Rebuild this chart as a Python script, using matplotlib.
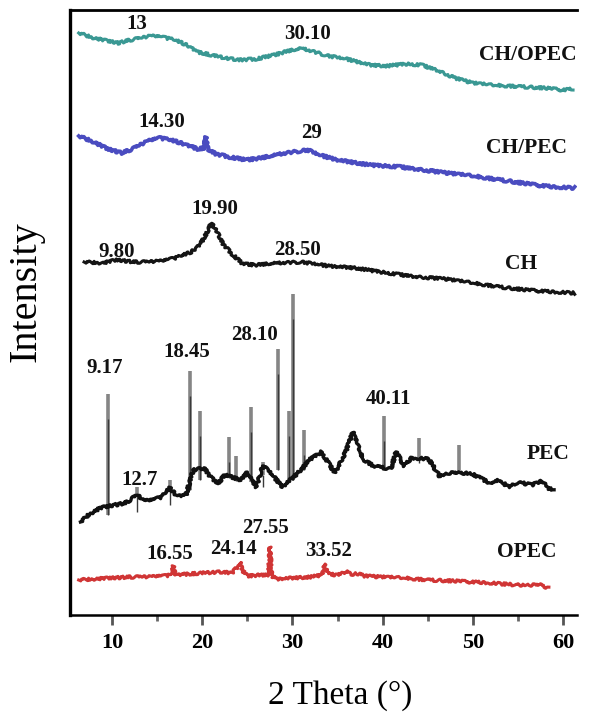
# XRD patterns of OPEC, PEC, CH and the blends, stacked
import numpy as np
import matplotlib
matplotlib.use("Agg")
import matplotlib.pyplot as plt

plt.rcParams["font.family"] = ["Liberation Serif", "DejaVu Serif"]

# stacked intensities (a.u.), 2-theta in degrees
chopec_x = [6.3, 8, 9.5, 10.7, 12, 13.3, 14.3, 15.5, 17, 18.5, 19.5, 21, 22.5, 24.1, 26, 28, 29.5,
            31, 32.5, 34, 36, 38.6, 40.5, 42.5, 44.3, 46, 48, 50, 52, 54, 56, 58, 60, 61.1]
chopec_y = [582, 577, 574, 572, 575, 577, 579, 578, 575, 569, 563, 560, 557, 555, 556, 560, 564,
            567, 563, 559, 556, 550, 549, 551, 550, 545, 537, 532, 530, 529, 528, 527, 525, 526]

chpec_x = [6.3, 8, 9.5, 11.1, 12.5, 14, 15.3, 16.5, 18, 19.5, 20.2, 20.4, 20.6, 21.5, 23, 24.9, 26.5,
           28.5, 30, 31.7, 33, 35, 38.6, 42, 46.2, 50, 53.9, 57, 59, 61.3]
chpec_y = [479, 473, 466, 462, 467, 474, 477, 475, 471, 466, 467, 478, 466, 461, 458, 455, 457,
           461, 463, 465, 460, 455, 450, 448, 443, 439, 434, 430, 428, 427]

ch_x = [6.9, 9, 10.5, 12.5, 14, 15.6, 17, 18.8, 19.8, 20.5, 21.0, 21.6, 22.3, 23.3, 24.5, 26, 28,
        31, 34, 37, 40.5, 44, 47, 50, 53, 56, 59, 61.3]
ch_y = [353, 352, 355, 353, 353, 354, 357, 363, 371, 382, 392, 384, 371, 361, 351, 350, 352,
        353, 349, 347, 342, 338, 336, 332, 328, 325, 323, 322]

pec_x = [6.5, 7.5, 8.7, 10.3, 11.5, 12.8, 13.5, 14.5, 15.5, 16.4, 17.2, 18.2, 19, 20.2, 21, 21.8,
         22.5, 24.3, 25, 26, 26.7, 27.3, 28.9, 30.6, 32, 33.2, 34.7, 35.9, 36.7, 37.8, 39, 40.9,
         41.5, 42.4, 43.2, 45.1, 46.3, 47.4, 49.7, 50.8, 51.9, 53, 53.9, 55, 56.5, 57.7, 58.3, 59]
pec_y = [93, 101, 107, 110, 112, 120, 114, 115, 118, 127, 119, 120, 145, 147, 137, 132,
         140, 135, 143, 128, 149, 145, 128, 142, 156, 163, 142, 163, 183, 156, 149, 146,
         163, 149, 157, 156, 139, 142, 142, 137, 132, 135, 128, 133, 130, 134, 127, 125]

# sharp PEC reflections (gray sticks): position, foot, top
pec_peak_x = [9.6, 12.8, 16.4, 18.65, 19.7, 23.0, 23.7, 25.4, 26.7, 28.35, 29.6, 30.1, 31.3, 40.1, 44.0, 48.5]
pec_peak_lo = [100, 120, 125, 125, 135, 137, 137, 133, 140, 145, 135, 135, 145, 147, 155, 145]
pec_peak_hi = [221, 128, 135, 244, 204, 178, 159, 208, 153, 266, 204, 321, 185, 199, 177, 170]

opec_x = [6.3, 8, 10, 12, 14, 15.7, 16.6, 16.8, 17.0, 18.5, 20, 22, 23.3, 24.0, 24.2, 24.4, 25,
          26.5, 27.3, 27.5, 27.7, 28.3, 30, 32, 33.3, 33.6, 33.9, 35, 36.1, 36.5, 37.0, 38, 40,
          42.4, 45, 48, 51.9, 55, 57.5, 58.4]
opec_y = [35, 36, 37, 38, 38, 39, 40, 49, 40, 41, 42, 43, 42, 49, 53, 45, 39,
          40, 40, 68, 39, 36, 37, 38, 40, 51, 41, 40, 44, 40, 42, 39, 38,
          37, 35, 34, 32, 30, 30, 27]

labels = ["13", "30.10", "CH/OPEC", "14.30", "29", "CH/PEC", "9.80", "19.90", "28.50", "CH",
          "9.17", "18.45", "28.10", "40.11", "12.7", "PEC", "16.55", "24.14", "27.55", "33.52", "OPEC"]
label_x = [12.8, 31.7, 56.1, 15.5, 32.1, 56.0, 10.55, 21.4, 30.6, 55.3,
           9.2, 18.3, 25.8, 40.7, 13.0, 58.4, 16.4, 23.5, 27.0, 34.0, 56.0]
label_y = [591, 581, 560, 493, 482, 467, 363, 406, 365, 351,
           247, 263, 280, 216, 135, 161, 61, 66.5, 87, 64, 63]
series_names = ["CH/OPEC", "CH/PEC", "CH", "PEC", "OPEC"]

fig = plt.figure(figsize=(6.03, 7.12), dpi=100)
ax = fig.add_axes([70 / 603, 1 - 615 / 712, 507 / 603, 605 / 712])

def trace(x, y, color, lw=2.0):
    line, = ax.plot(x, y, color=color, lw=lw, solid_joinstyle="round")
    line.set_sketch_params(scale=1.3, length=2.2, randomness=8)
    return line

trace(chopec_x, chopec_y, "#3a9893", lw=2.2)
trace(chpec_x, chpec_y, "#4a4cc0", lw=2.6)
trace(ch_x, ch_y, "#151515", lw=2.2)
ax.vlines(pec_peak_x, pec_peak_lo, pec_peak_hi, color="#858585", lw=2.6)
ax.vlines(pec_peak_x, pec_peak_lo, np.array(pec_peak_hi) - 25, color="#3a3a3a", lw=1.0)
trace(pec_x, pec_y, "#111111", lw=2.4)
trace(opec_x, opec_y, "#d03535", lw=2.2)

for t, x, y in zip(labels, label_x, label_y):
    ax.text(x, y, t, ha="center", va="center", fontsize=15.5 if t in series_names else 15,
            fontweight="bold", color="#111111")

ax.set_xlim(5.34, 61.55)
ax.set_ylim(0, 605)
ax.set_xticks([10, 20, 30, 40, 50, 60])
ax.set_xticks([15, 25, 35, 45, 55], minor=True)
ax.set_yticks([])
ax.tick_params(axis="x", which="major", length=7, width=2, color="#555555",
               labelsize=16, pad=6)
ax.tick_params(axis="x", which="minor", length=4, width=2, color="#666666")
for lab in ax.get_xticklabels():
    lab.set_fontweight("bold")

ax.spines["right"].set_visible(False)
ax.spines["left"].set_linewidth(2.4)
ax.spines["top"].set_linewidth(2.0)
ax.spines["bottom"].set_linewidth(1.8)

ax.set_xlabel("2 Theta (\u00b0)", fontsize=24)
ax.set_ylabel("Intensity", fontsize=29)
ax.xaxis.set_label_coords(0.533, -0.107)
ax.yaxis.set_label_coords(-0.05, 0.534)

fig.savefig("out.png", dpi=100)
